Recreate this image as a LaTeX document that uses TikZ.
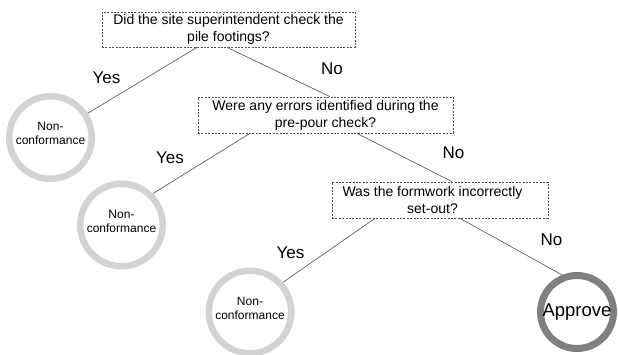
\documentclass[tikz,border=0pt]{standalone}
\usepackage{fontspec}
\setmainfont{Liberation Sans}
\definecolor{ringlight}{HTML}{D3D3D3}
\definecolor{ringdark}{HTML}{808080}
\definecolor{linkgray}{HTML}{606060}
\definecolor{dashgray}{HTML}{505050}
\begin{document}
\begin{tikzpicture}[x=1pt,y=-1pt,
  question/.style={draw=dashgray, line width=0.7pt, dash pattern=on 2pt off 1.4pt,
    inner sep=0pt, align=center, font=\fontsize{14}{17}\selectfont},
  reject/.style={circle, draw=ringlight, line width=6.5pt, minimum size=82.5pt,
    inner sep=0pt, align=center, text depth=8pt, font=\fontsize{12}{14}\selectfont},
  accept/.style={circle, draw=ringdark, line width=7pt, minimum size=73pt,
    inner sep=0pt, font=\fontsize{18.5}{20}\selectfont},
  answer/.style={inner sep=0pt, font=\fontsize{17}{19}\selectfont},
  link/.style={draw=linkgray, line width=0.7pt}]
\useasboundingbox (0,0) rectangle (618,354);

% questions
\node[question, minimum width=253pt, minimum height=35pt] (q1) at (228.5,29.5)
  {Did the site superintendent check the\\pile footings?};
\node[question, minimum width=255pt, minimum height=36pt] (q2) at (325.5,115)
  {Were any errors identified during the\\pre-pour check?};
\node[question, minimum width=216pt, minimum height=36pt] (q3) at (440,200)
  {Was the formwork incorrectly\hspace*{15pt}\\set-out?\hspace*{15pt}};

% outcomes
\node[reject] (r1) at (50.5,137.5) {Non-\\conformance};
\node[reject] (r2) at (121.5,225) {Non-\\conformance};
\node[reject] (r3) at (250,312) {Non-\\conformance};
\node[accept] (ok) at (577,312) {Approve};

% branches
\draw[link] ([xshift=-31.5pt]q1.south) -- (r1.33);
\draw[link] ([xshift=-1.5pt]q1.south) -- ([xshift=4.5pt]q2.north);
\draw[link] ([xshift=-75.5pt]q2.south) -- (r2.45);
\draw[link] ([xshift=31.5pt]q2.south) -- ([xshift=12pt]q3.north);
\draw[link] ([xshift=-65pt]q3.south) -- (r3.42);
\draw[link] ([xshift=20pt]q3.south) -- (ok.112);

% branch labels
\node[answer] (y1) at (106.5,78) {Yes};
\node[answer] (n1) at (332,69) {No};
\node[answer] (y2) at (170,158) {Yes};
\node[answer] (n2) at (453.5,153) {No};
\node[answer] (y3) at (290.5,253) {Yes};
\node[answer] (n3) at (551.5,240) {No};
\end{tikzpicture}
\end{document}
